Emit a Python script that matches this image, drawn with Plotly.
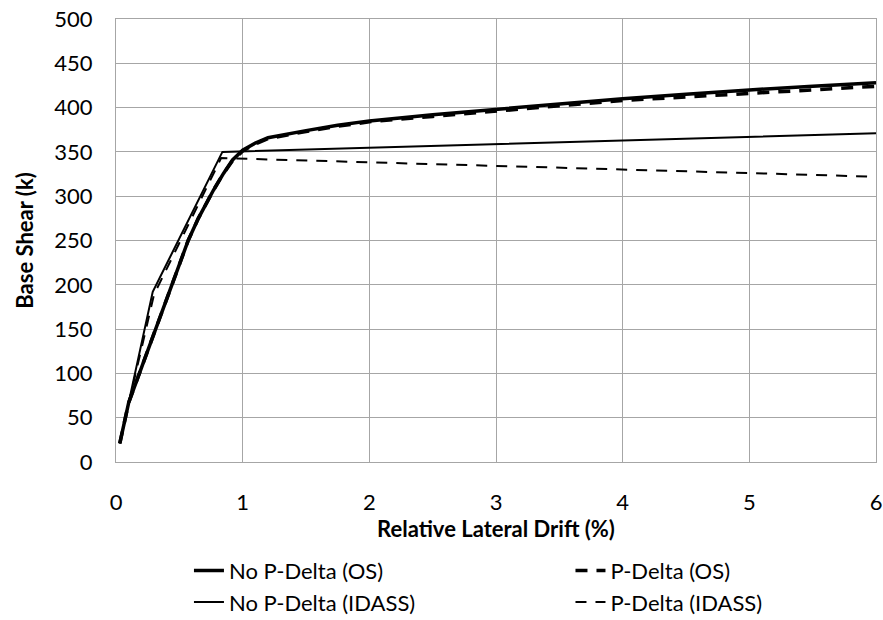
import plotly.graph_objects as go

# Data
os_x = [0.03, 0.1, 0.2, 0.35, 0.5, 0.57, 0.65, 0.77, 0.85, 0.92, 1.0, 1.1, 1.2, 1.3, 1.5, 1.75, 2.0, 2.5, 3.0, 3.5, 4.0, 4.5, 5.0, 5.5, 6.0]
nopd_os_y = [21, 67, 106, 164, 222, 250, 275, 307, 326, 341, 352, 360, 366, 369, 374, 380, 385, 392, 398, 404, 410, 415, 420, 424, 428]
pd_os_y = [21, 67, 106, 164, 222, 250, 275, 307, 326, 340, 351, 359, 365, 368, 373, 379, 384, 390, 396, 402, 408, 412, 416, 420, 424]

idass_x_nopd = [0.03, 0.1, 0.29, 0.84, 6.0]
nopd_idass_y = [21, 67, 192, 350, 371]
idass_x_pd = [0.03, 0.1, 0.3, 0.83, 6.0]
pd_idass_y = [21, 66, 189, 343, 322]

x_ticks = [0, 1, 2, 3, 4, 5, 6]
y_ticks = [0, 50, 100, 150, 200, 250, 300, 350, 400, 450, 500]

FONT = "Lato"
FS = 22

fig = go.Figure()
fig.add_trace(go.Scatter(x=os_x, y=nopd_os_y, mode="lines", name="No P-Delta (OS)",
                         line=dict(color="black", width=3.5), legend="legend"))
fig.add_trace(go.Scatter(x=os_x, y=pd_os_y, mode="lines", name="P-Delta (OS)",
                         line=dict(color="black", width=3.5, dash="12px,9px"), legend="legend2"))
fig.add_trace(go.Scatter(x=idass_x_nopd, y=nopd_idass_y, mode="lines", name="No P-Delta (IDASS)",
                         line=dict(color="black", width=2), legend="legend"))
fig.add_trace(go.Scatter(x=idass_x_pd, y=pd_idass_y, mode="lines", name="P-Delta (IDASS)",
                         line=dict(color="black", width=2, dash="11px,9px"), legend="legend2"))

leg_common = dict(orientation="v", yanchor="top", xanchor="left", y=-0.198,
                  font=dict(size=FS, family=FONT), tracegroupgap=0, bgcolor="rgba(0,0,0,0)")

fig.update_layout(
    width=883, height=620,
    margin=dict(l=116, r=7, t=19, b=158, autoexpand=False),
    paper_bgcolor="white", plot_bgcolor="white",
    font=dict(family=FONT, size=FS, color="black"),
    showlegend=True,
    legend=dict(x=0.096, **leg_common),
    legend2=dict(x=0.598, **leg_common),
    xaxis=dict(range=[0, 6], tickvals=x_ticks, showgrid=True, gridcolor="#a6a6a6", gridwidth=1.3,
               showline=True, linecolor="#a6a6a6", linewidth=1.3, mirror=True, zeroline=False,
               ticks="", ticklabelstandoff=20,
               title=dict(text="<b>Relative Lateral Drift (%)</b>", standoff=4, font=dict(size=FS))),
    yaxis=dict(range=[0, 500], tickvals=y_ticks, showgrid=True, gridcolor="#a6a6a6", gridwidth=1.3,
               showline=True, linecolor="#a6a6a6", linewidth=1.3, mirror=True, zeroline=False,
               ticks="", ticklabelstandoff=18,
               title=dict(text="<b>Base Shear (k)</b>", standoff=14, font=dict(size=FS))),
)

fig.write_html("out.html")
